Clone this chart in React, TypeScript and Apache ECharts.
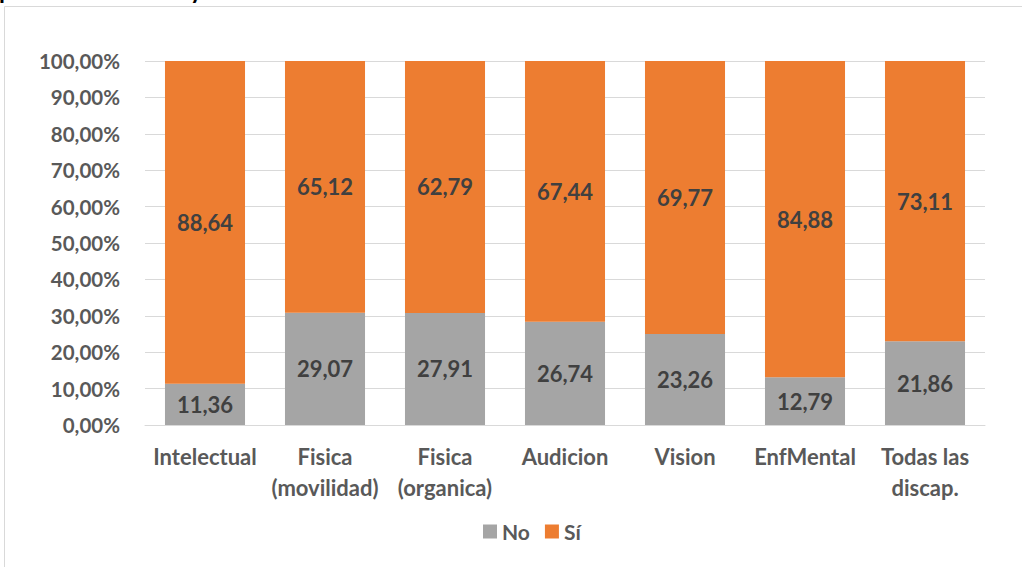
import React, { useEffect, useRef } from "react";
import * as echarts from "echarts";

const categories = [
  "Intelectual",
  "Fisica\n(movilidad)",
  "Fisica\n(organica)",
  "Audicion",
  "Vision",
  "EnfMental",
  "Todas las\ndiscap.",
];
const noValues = [11.36, 29.07, 27.91, 26.74, 23.26, 12.79, 21.86];
const siValues = [88.64, 65.12, 62.79, 67.44, 69.77, 84.88, 73.11];
const yTicks = [0, 10, 20, 30, 40, 50, 60, 70, 80, 90, 100];

const fmt = (v: number) => v.toFixed(2).replace(".", ",");

export default function App() {
  const ref = useRef<HTMLDivElement>(null);
  useEffect(() => {
    document.body.style.margin = "0";
    if (!ref.current) return;
    const chart = echarts.init(ref.current, undefined, { renderer: "svg" });
    const totals = noValues.map((v, i) => v + siValues[i]);
    const noPct = noValues.map((v, i) => (v / totals[i]) * 100);
    const siPct = siValues.map((v, i) => (v / totals[i]) * 100);
    const font = "Lato";
    const labelStyle = (raw: number[]) => ({
      show: true,
      position: "inside" as const,
      fontFamily: font,
      fontWeight: "bold" as const,
      fontSize: 22,
      color: "#404040",
      formatter: (p: any) => fmt(raw[p.dataIndex]),
    });
    chart.setOption({
      animation: false,
      backgroundColor: "#ffffff",
      textStyle: { fontFamily: font },
      grid: { left: 145, right: 37, top: 61, bottom: 142, containLabel: false },
      graphic: [
        {
          type: "rect",
          shape: { x: 4.5, y: 6.5, width: 1100, height: 700 },
          style: { fill: "none", stroke: "#d9d9d9", lineWidth: 1 },
          silent: true,
        },
        {
          type: "text",
          left: -1,
          top: -23,
          style: {
            text: "pertenencia a red y",
            font: "bold 24px Lato",
            fill: "#000000",
          },
        },
      ],
      legend: {
        bottom: 20,
        left: 478,
        itemWidth: 14,
        itemHeight: 14,
        itemGap: 15,
        icon: "rect",
        textStyle: { fontFamily: font, fontWeight: "bold", fontSize: 21, color: "#595959" },
        data: ["No", "Sí"],
      },
      xAxis: {
        type: "category",
        data: categories,
        axisLine: { show: true, lineStyle: { color: "#d9d9d9" } },
        axisTick: { show: false },
        axisLabel: {
          interval: 0,
          margin: 16,
          fontFamily: font,
          fontWeight: "bold",
          fontSize: 22,
          color: "#595959",
          lineHeight: 31,
        },
      },
      yAxis: {
        type: "value",
        min: yTicks[0],
        max: yTicks[yTicks.length - 1],
        interval: 10,
        axisLine: { show: false },
        axisTick: { show: false },
        splitLine: { lineStyle: { color: "#d9d9d9", width: 1 } },
        axisLabel: {
          margin: 25,
          fontFamily: font,
          fontWeight: "bold",
          fontSize: 20.5,
          color: "#595959",
          formatter: (v: number) => fmt(v) + "%",
        },
      },
      series: [
        {
          name: "No",
          type: "bar",
          stack: "total",
          barWidth: "66.7%",
          itemStyle: { color: "#a5a5a5" },
          label: labelStyle(noValues),
          data: noPct,
        },
        {
          name: "Sí",
          type: "bar",
          stack: "total",
          barWidth: "66.7%",
          itemStyle: { color: "#ed7d31" },
          label: labelStyle(siValues),
          data: siPct,
        },
      ],
    });
    return () => chart.dispose();
  }, []);
  return <div ref={ref} style={{ width: 1022, height: 567 }} />;
}
